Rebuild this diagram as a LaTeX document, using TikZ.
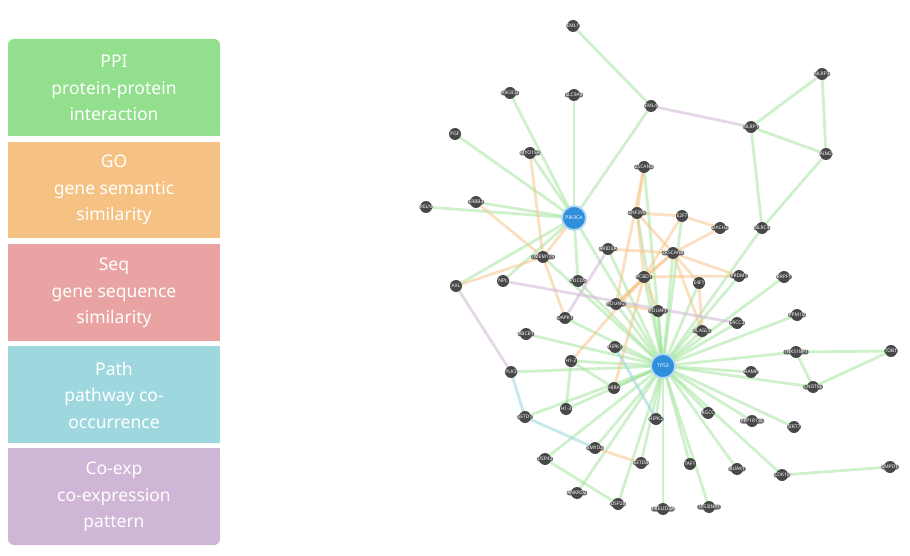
\documentclass[tikz,border=0pt]{standalone}
\usepackage{fontspec}
\setmainfont{Noto Sans}
\usetikzlibrary{backgrounds}
\definecolor{cppi}{RGB}{146,224,141}
\definecolor{cgo}{RGB}{245,194,131}
\definecolor{cseq}{RGB}{233,163,163}
\definecolor{cpath}{RGB}{158,216,222}
\definecolor{cexp}{RGB}{207,181,214}
\definecolor{ndark}{RGB}{72,72,72}
\definecolor{bblue}{RGB}{47,143,218}
\newcommand\gnode[4]{\fill[ndark] (#2,#3) circle (6pt); \node[lab] (#1) at (#2,#3) {#4};}
\begin{document}
\begin{tikzpicture}[x=1pt,y=-1pt,
  lab/.style={fill=ndark, fill opacity=0.8, text opacity=1, rounded corners=2.5pt, inner sep=0.7pt, text=white, font=\fontsize{4.9}{5.2}\selectfont},
  big/.style={circle, fill=bblue, draw=bblue!35, line width=1.8pt, minimum size=24pt, inner sep=0pt, text=white, font=\fontsize{5}{5.5}\selectfont},
  ppi/.style={draw=cppi, line width=2.8pt, opacity=0.45},
  gos/.style={draw=cgo, line width=2.8pt, opacity=0.5},
  exps/.style={draw=cexp, line width=2.8pt, opacity=0.55},
  paths/.style={draw=cpath, line width=2.8pt, opacity=0.6},
  boxtxt/.style={text=white, font=\fontsize{17.5}{26.5}\selectfont, align=center}]
\useasboundingbox (0,0) rectangle (910,556);
% legend boxes
\fill[cppi, rounded corners=6pt] (8,39) rectangle (220,136);
\fill[cppi] (8,80) rectangle (220,136);
\fill[cgo] (8,142) rectangle (220,238);
\fill[cseq] (8,244) rectangle (220,341);
\fill[cpath] (8,346) rectangle (220,443);
\fill[cexp, rounded corners=6pt] (8,448) rectangle (220,545);
\fill[cexp] (8,448) rectangle (220,500);
\node[boxtxt] (t1) at (114,88) {PPI\\protein-protein\\interaction};
\node[boxtxt] (t2) at (114,190) {GO\\gene semantic\\similarity};
\node[boxtxt] (t3) at (114,293) {Seq\\gene sequence\\similarity};
\node[boxtxt] (t4) at (114,395) {Path\\pathway co-\\occurrence};
\node[boxtxt] (t5) at (114,497) {Co-exp\\co-expression\\pattern};
% nodes
\gnode{eml1}{573}{26}{EML1}
\gnode{pik3cd}{510}{93}{PIK3CD}
\gnode{slc}{574}{95}{SLC9A9}
\gnode{eml4}{651}{106}{EML4}
\gnode{nlrp3}{822}{74}{NLRP3}
\gnode{nlrp1}{751}{127}{NLRP1}
\gnode{aim2}{826}{154}{AIM2}
\gnode{pgf}{455}{134}{PGF}
\gnode{myo}{530}{153}{MYO15A}
\gnode{zscan}{644}{167}{ZSCAN5}
\gnode{reln}{426}{207}{RELN}
\gnode{erbb3}{476}{202}{ERBB3}
\gnode{znf}{637}{213}{ZNF395}
\gnode{e2f7}{682}{216}{E2F7}
\gnode{dach2}{720}{228}{DACH2}
\gnode{nlrc4}{762}{228}{NLRC4}
\gnode{tmem}{543}{257}{TMEM175}
\gnode{arid}{608}{249}{ARID3A}
\gnode{zkscan}{673}{253}{ZKSCAN4}
\gnode{pcbd}{644}{277}{PCBD1}
\gnode{e4f1}{699}{283}{E4F1}
\gnode{prdm1}{739}{276}{PRDM1}
\gnode{brpf}{784}{277}{BRPF1}
\gnode{ppm1d}{797}{315}{PPM1D}
\gnode{ercc}{737}{323}{ERCC3}
\gnode{tnks}{796}{352}{TNKS1BP1}
\gnode{tob1}{891}{351}{TOB1}
\gnode{axl}{456}{286}{AXL}
\gnode{npl}{503}{281}{NPL}
\gnode{pdcd}{578}{281}{PDCD5}
\gnode{dapk}{565}{318}{DAPK1}
\gnode{abcb}{526}{334}{ABCB1}
\gnode{pou2}{616}{304}{POU4F2}
\gnode{pou1}{658}{311}{POU4F1}
\gnode{plag}{702}{331}{PLAGL1}
\gnode{hipk1}{615}{347}{HIPK1}
\gnode{h12}{571}{361}{H1-2}
\gnode{plk3}{511}{372}{PLK3}
\gnode{hira}{614}{388}{HIRA}
\gnode{h13}{566}{409}{H1-3}
\gnode{setd7}{525}{417}{SETD7}
\gnode{hipk2}{656}{419}{HIPK2}
\gnode{rgcc}{708}{413}{RGCC}
\gnode{smyd2}{595}{448}{SMYD2}
\gnode{setd8}{641}{463}{SETD8}
\gnode{taf1}{690}{464}{TAF1}
\gnode{nuak}{737}{469}{NUAK1}
\gnode{ankrd}{577}{493}{ANKRD2}
\gnode{usp28}{618}{504}{USP28}
\gnode{prelid}{663}{509}{PRELID3A}
\gnode{inp1}{709}{507}{TP53INP1}
\gnode{usp42}{545}{459}{USP42}
\gnode{hamp}{751}{372}{HAMP}
\gnode{cnot}{813}{387}{CNOT6L}
\gnode{ppp1}{752}{421}{PPP1R13L}
\gnode{sirt7}{794}{427}{SIRT7}
\gnode{cdk10}{782}{475}{CDK10}
\gnode{smpd}{890}{467}{SMPD1}
\node[big] (pik3ca) at (574,218) {PIK3CA};
\node[big] (tp53) at (663,366) {TP53};
\begin{pgfonlayer}{background}
\foreach \a/\b in {eml1/eml4, eml4/pik3ca, nlrp1/nlrp3, nlrp3/aim2, nlrp1/aim2, nlrp1/nlrc4, aim2/nlrc4, nlrc4/tp53,
  pik3cd/pik3ca, slc/pik3ca, myo/pik3ca, pgf/pik3ca, reln/pik3ca, erbb3/pik3ca, axl/pik3ca, npl/pik3ca,
  pik3ca/pdcd, pik3ca/tp53, zscan/tp53, znf/tp53, e2f7/tp53, zkscan/tp53, arid/tp53, pcbd/tp53, pou2/tp53,
  pou1/tp53, e4f1/tp53, plag/tp53, prdm1/tp53, brpf/tp53, ppm1d/tp53, ercc/tp53, tnks/tp53, tnks/tob1,
  tnks/cnot, tob1/cnot, cnot/tp53, hamp/tp53, ppp1/tp53, sirt7/tp53, rgcc/tp53, cdk10/tp53, cdk10/smpd,
  nuak/tp53, taf1/tp53, inp1/tp53, prelid/tp53, hipk2/tp53, setd8/tp53, usp28/tp53, ankrd/tp53,
  usp42/tp53, usp42/usp28, smyd2/tp53, setd7/tp53, h13/tp53, h12/tp53, h12/h13, h12/hira, plk3/tp53,
  hira/tp53, hipk1/tp53, abcb/tp53, dapk/tp53, pdcd/tp53, tmem/tp53}
  \draw[ppi] (\a.center) -- (\b.center);
\foreach \a/\b in {myo/tmem, tmem/dapk, erbb3/tmem, axl/tmem, tmem/pik3ca, zscan/znf, zscan/pou2,
  znf/e2f7, znf/zkscan, znf/pcbd, e2f7/dach2, e2f7/pcbd, dach2/zkscan, arid/zkscan, zkscan/pcbd,
  zkscan/e4f1, zkscan/plag, zkscan/pou2, zkscan/prdm1, pcbd/prdm1, pcbd/pou1, pcbd/pou2, pcbd/hira,
  e4f1/plag, pou2/pou1, h12/pcbd, smyd2/setd8}
  \draw[gos] (\a.center) -- (\b.center);
\foreach \a/\b in {eml4/nlrp1, axl/plk3, npl/ercc, arid/dapk}
  \draw[exps] (\a.center) -- (\b.center);
\foreach \a/\b in {plk3/setd7, setd7/smyd2, hipk1/hipk2}
  \draw[paths] (\a.center) -- (\b.center);
\end{pgfonlayer}
\end{tikzpicture}
\end{document}
